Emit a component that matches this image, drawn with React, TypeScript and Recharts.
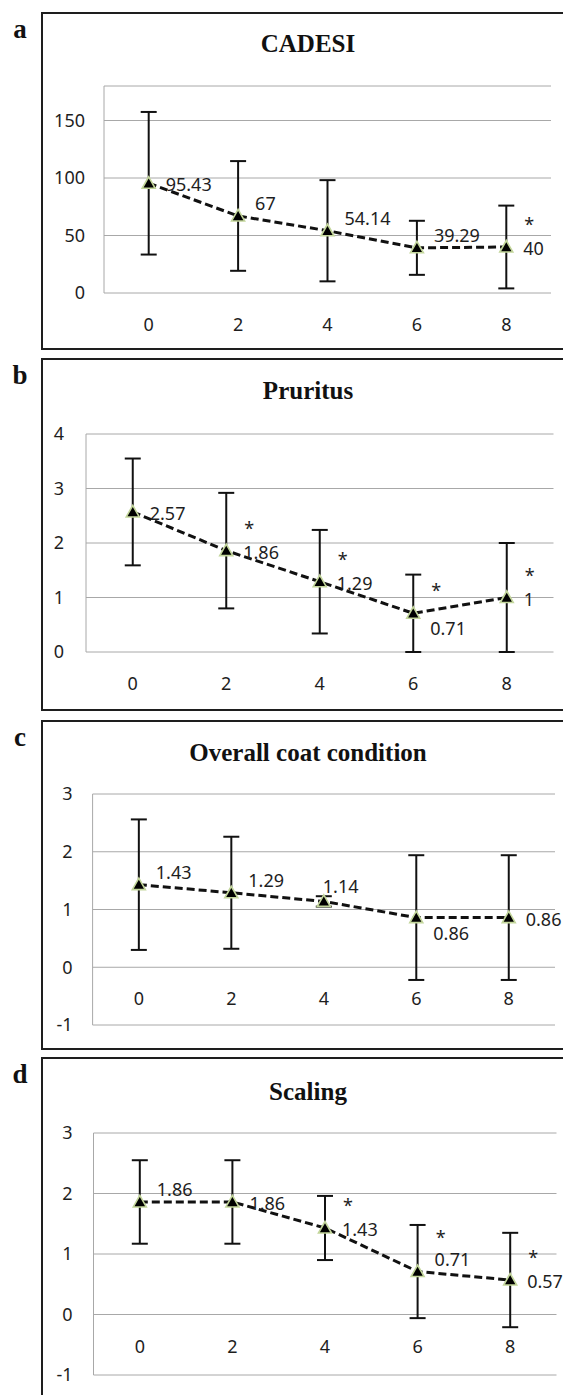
import React from "react";
import { LineChart, Line, XAxis, YAxis, CartesianGrid, ErrorBar, LabelList } from "recharts";

const weeks = ["0", "2", "4", "6", "8"];

const cadesiMean = [95.43, 67, 54.14, 39.29, 40];
const cadesiSd = [62, 47.7, 44, 23.5, 36];
const cadesiSig = [false, false, false, false, true];
const cadesiTicks = [0, 50, 100, 150];

const pruritusMean = [2.57, 1.86, 1.29, 0.71, 1];
const pruritusSd = [0.98, 1.06, 0.95, 0.71, 1.0];
const pruritusSig = [false, true, true, true, true];
const pruritusTicks = [0, 1, 2, 3, 4];

const coatMean = [1.43, 1.29, 1.14, 0.86, 0.86];
const coatSd = [1.13, 0.97, 0.09, 1.08, 1.08];
const coatSig = [false, false, false, false, false];
const coatTicks = [-1, 0, 1, 2, 3];

const scalingMean = [1.86, 1.86, 1.43, 0.71, 0.57];
const scalingSd = [0.69, 0.69, 0.53, 0.77, 0.78];
const scalingSig = [false, false, true, true, true];
const scalingTicks = [-1, 0, 1, 2, 3];

// where each value label sits relative to its marker
const PLACE: Record<string, [number, number]> = {
  right: [17, 1],
  upper: [17, -13],
  lower: [17, 15],
  above: [-1, -15],
};

const SANS = "'Noto Sans', 'DejaVu Sans', sans-serif";
const SERIF = "'Liberation Serif', 'Times New Roman', serif";
const INK = "#1e1e1e";
const GRID = "#a8a8a8";

const panels = [
  {
    letter: "a", title: "CADESI", mean: cadesiMean, sd: cadesiSd, sig: cadesiSig, ticks: cadesiTicks,
    domain: [0, 180], place: ["right", "upper", "upper", "upper", "right"],
    plotLeft: 104, plotRight: 551, plotTop: 86, plotBottom: 293, tickGap: 19,
    frameTop: 13, frameBottom: 351, letterY: 38, titleY: 52,
  },
  {
    letter: "b", title: "Pruritus", mean: pruritusMean, sd: pruritusSd, sig: pruritusSig, ticks: pruritusTicks,
    domain: [0, 4], place: ["right", "right", "right", "lower", "right"],
    plotLeft: 86, plotRight: 553.5, plotTop: 434, plotBottom: 652, tickGap: 22,
    frameTop: 359, frameBottom: 712, letterY: 384, titleY: 399,
  },
  {
    letter: "c", title: "Overall coat condition", mean: coatMean, sd: coatSd, sig: coatSig, ticks: coatTicks,
    domain: [-1, 3], place: ["upper", "upper", "above", "lower", "right"],
    plotLeft: 92.6, plotRight: 555, plotTop: 794, plotBottom: 1025, tickGap: 20,
    frameTop: 721, frameBottom: 1051, letterY: 746, titleY: 761,
  },
  {
    letter: "d", title: "Scaling", mean: scalingMean, sd: scalingSd, sig: scalingSig, ticks: scalingTicks,
    domain: [-1, 3], place: ["upper", "right", "right", "upper", "right"],
    plotLeft: 93.5, plotRight: 556.5, plotTop: 1133, plotBottom: 1375, tickGap: 21,
    frameTop: 1058, frameBottom: 1420, letterY: 1083, titleY: 1100,
  },
];

function Triangle(props: any) {
  const { cx, cy } = props;
  if (cx == null || cy == null) return null;
  return (
    <path
      d={`M${cx},${cy - 6.5} L${cx - 6.5},${cy + 5} L${cx + 6.5},${cy + 5} Z`}
      fill="#000"
      stroke="#c3d69b"
      strokeWidth={1.6}
    />
  );
}

function Panel({ cfg }: { cfg: any }) {
  const data = weeks.map((w, i) => ({ week: w, mean: cfg.mean[i], sd: cfg.sd[i] }));
  const mt = 12;
  const axisH = 52;
  const yw = 60;
  const plotH = cfg.plotBottom - cfg.plotTop;
  const plotW = cfg.plotRight - cfg.plotLeft;
  const pad = plotW / 10;
  const zeroY = mt + (plotH * cfg.domain[1]) / (cfg.domain[1] - cfg.domain[0]);

  const xTick = (p: any) => (
    <text x={p.x} y={zeroY + 31} textAnchor="middle" dominantBaseline="central"
      fontFamily={SANS} fontSize={18} fill={INK}>
      {p.payload.value}
    </text>
  );

  const label = (p: any) => {
    const where = cfg.place[p.index];
    const [dx, dy] = PLACE[where];
    const starDy = where === "upper" ? -28 : -16;
    return (
      <g key={`l${p.index}`}>
        <text x={p.x + dx} y={p.y + dy} textAnchor="start" dominantBaseline="central"
          fontFamily={SANS} fontSize={18} fill={INK}>
          {String(p.value)}
        </text>
        {cfg.sig[p.index] && (
          <text x={p.x + 23} y={p.y + starDy} textAnchor="middle" fontFamily={SANS} fontSize={18} fill={INK}>
            *
          </text>
        )}
      </g>
    );
  };

  return (
    <div style={{ position: "absolute", left: 0, top: cfg.plotTop - mt }}>
      <LineChart
        width={563}
        height={mt + plotH + axisH}
        data={data}
        margin={{ top: mt, right: 563 - cfg.plotRight, bottom: 0, left: cfg.plotLeft - yw }}
      >
        <CartesianGrid vertical={false} stroke={GRID} strokeWidth={1} />
        <XAxis dataKey="week" axisLine={false} tickLine={false} height={axisH}
          padding={{ left: pad, right: pad }} tick={xTick} interval={0} />
        <YAxis type="number" domain={cfg.domain} ticks={cfg.ticks} width={yw}
          axisLine={{ stroke: GRID }} tickLine={false} tickMargin={cfg.tickGap - 6}
          tick={{ fontFamily: SANS, fontSize: 18, fill: INK }} />
        <Line
          type="linear"
          dataKey="mean"
          stroke="#111"
          strokeWidth={3}
          strokeDasharray="8 4"
          isAnimationActive={false}
          dot={(p: any) => <Triangle key={`d${p.index}`} {...p} />}
          activeDot={false}
        >
          <ErrorBar dataKey="sd" width={8} strokeWidth={2} stroke="#111" direction="y" />
          <LabelList dataKey="mean" content={label} />
        </Line>
      </LineChart>
    </div>
  );
}

export default function App() {
  return (
    <div style={{ position: "absolute", left: 0, top: 0, width: 563, height: 1395, overflow: "hidden", background: "#fff" }}>
      {panels.map((p) => (
        <div key={`f${p.letter}`} style={{
          position: "absolute", left: 41, top: p.frameTop - 1, width: 600,
          height: p.frameBottom - p.frameTop, border: `2px solid ${INK}`, boxSizing: "border-box",
        }} />
      ))}
      {panels.map((p) => <Panel key={p.letter} cfg={p} />)}
      <svg width={563} height={1395} style={{ position: "absolute", left: 0, top: 0, pointerEvents: "none" }}>
        {panels.map((p) => (
          <g key={`t${p.letter}`}>
            <text x={20} y={p.letterY} textAnchor="middle" fontFamily={SERIF} fontWeight="bold" fontSize={27} fill="#111">
              {p.letter}
            </text>
            <text x={308} y={p.titleY} textAnchor="middle" fontFamily={SERIF} fontWeight="bold" fontSize={25} fill="#111">
              {p.title}
            </text>
          </g>
        ))}
      </svg>
    </div>
  );
}
